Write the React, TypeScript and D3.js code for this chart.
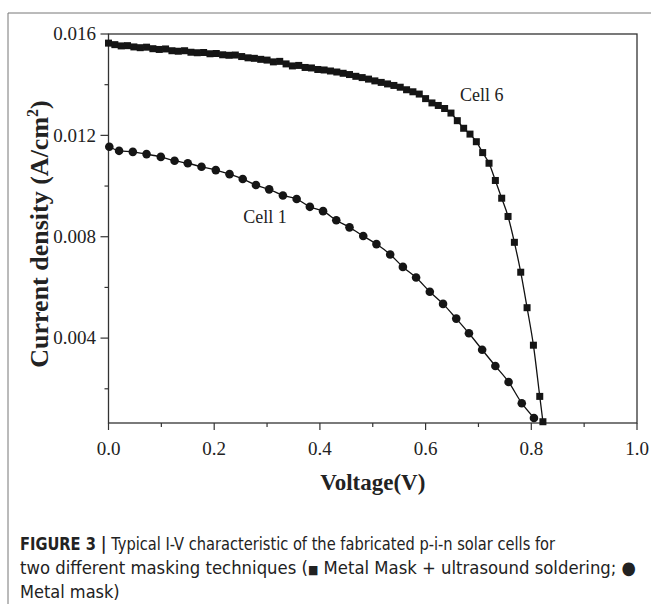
import React from "react";
import * as d3 from "d3";

// Cell 6: metal mask + ultrasound soldering (squares)
const cell6Voltage = [
  0, 0.012, 0.024, 0.036, 0.048, 0.06, 0.072, 0.084, 0.096, 0.108,
  0.12, 0.132, 0.144, 0.156, 0.168, 0.18, 0.192, 0.204, 0.216, 0.228,
  0.24, 0.252, 0.264, 0.276, 0.288, 0.3, 0.312, 0.324, 0.336, 0.348,
  0.36, 0.372, 0.384, 0.396, 0.408, 0.42, 0.432, 0.444, 0.456, 0.468,
  0.48, 0.492, 0.504, 0.516, 0.528, 0.54, 0.552, 0.564, 0.576, 0.588,
  0.6, 0.612, 0.624, 0.636, 0.648, 0.66, 0.672, 0.684, 0.696, 0.708,
  0.72, 0.732, 0.744, 0.756, 0.768, 0.78, 0.792, 0.804, 0.816, 0.822,
];
const cell6Current = [
  0.01564, 0.01558, 0.01553, 0.01554, 0.01549, 0.01546, 0.01548, 0.01542, 0.01539, 0.01541,
  0.01534, 0.01532, 0.01534, 0.01528, 0.01526, 0.01527, 0.01522, 0.01523, 0.01518, 0.01516,
  0.01517, 0.01511, 0.01506, 0.01504, 0.015, 0.01497, 0.0149, 0.01492, 0.01482, 0.01474,
  0.01476, 0.01468, 0.01466, 0.0146, 0.01458, 0.01454, 0.0145, 0.01445, 0.0144, 0.01433,
  0.01428, 0.01422, 0.01415, 0.01409, 0.01403, 0.01397, 0.0139, 0.0138, 0.01372, 0.01363,
  0.01345, 0.01328, 0.01318, 0.01306, 0.01288, 0.01258, 0.01228, 0.01205, 0.01175, 0.01132,
  0.0109, 0.01022, 0.00952, 0.0088, 0.00778, 0.0066, 0.0052, 0.00372, 0.0017, 0.0007,
];

// Cell 1: metal mask (circles)
const cell1Voltage = [
  0.0015, 0.02, 0.046, 0.072, 0.099, 0.125, 0.15, 0.176, 0.203, 0.229,
  0.254, 0.279, 0.304, 0.33, 0.356, 0.381, 0.406, 0.431, 0.456, 0.482,
  0.507, 0.533, 0.557, 0.582, 0.608, 0.633, 0.658, 0.682, 0.707, 0.732,
  0.757, 0.782, 0.805,
];
const cell1Current = [
  0.01155, 0.01139, 0.01135, 0.01126, 0.01115, 0.011, 0.0109, 0.01076, 0.01063, 0.01047,
  0.01028, 0.01004, 0.00987, 0.00963, 0.00949, 0.00918, 0.00901, 0.00865, 0.00837, 0.00803,
  0.00771, 0.0073, 0.00681, 0.00639, 0.00583, 0.00535, 0.00477, 0.00419, 0.00354, 0.0029,
  0.00227, 0.00143, 0.00085,
];

const xTicks = [0, 0.2, 0.4, 0.6, 0.8, 1.0];
const xMinorTicks = [0.1, 0.3, 0.5, 0.7, 0.9];
const yTicks = [0.004, 0.008, 0.012, 0.016];
const yMinorTicks = [0.002, 0.006, 0.01, 0.014];

const cellNames = ["Cell 6", "Cell 1"];
const cellLabelV = [0.665, 0.255];
const cellLabelJ = [0.01335, 0.00856];

const W = 651;
const H = 604;
const margin = { left: 108.5, right: 14, top: 34, bottom: 181 };
const serif = "'Liberation Serif', 'Times New Roman', serif";
const sans = "'Liberation Sans Narrow', 'DejaVu Sans Condensed', 'Liberation Sans', Arial, sans-serif";

export default function App() {
  const x = d3.scaleLinear().domain([0, 1]).range([margin.left, W - margin.right]);
  const y = d3.scaleLinear().domain([0.00065, 0.016]).range([H - margin.bottom, margin.top]);

  const pathFor = (vs: number[], js: number[]) =>
    d3
      .line<number>()
      .x((_, i) => x(vs[i]))
      .y((_, i) => y(js[i]))
      .curve(d3.curveMonotoneX)(vs);

  const [x0, x1] = x.range();
  const [y0, y1] = y.range();
  const sq = 7;

  return (
    <svg
      width={W}
      height={H}
      style={{ position: "absolute", left: 0, top: 0, background: "#fff" }}
    >
      {/* outer figure frame */}
      <line x1={8} y1={13} x2={W} y2={13} stroke="#777" strokeWidth={1} />
      <line x1={8} y1={13} x2={8} y2={H} stroke="#777" strokeWidth={1} />

      {/* plot box */}
      <rect x={x0} y={y1} width={x1 - x0} height={y0 - y1} fill="none" stroke="#333" strokeWidth={1.3} />

      {/* x ticks */}
      {xTicks.map((t) => (
        <g key={"xt" + t}>
          <line x1={x(t)} x2={x(t)} y1={y0} y2={y0 + 7} stroke="#333" strokeWidth={1.2} />
          <text x={x(t)} y={455} textAnchor="middle" fontFamily={serif} fontSize={19} fill="#222">
            {d3.format(".1f")(t)}
          </text>
        </g>
      ))}
      {xMinorTicks.map((t) => (
        <line key={"xm" + t} x1={x(t)} x2={x(t)} y1={y0} y2={y0 + 4} stroke="#333" strokeWidth={1.2} />
      ))}

      {/* y ticks */}
      {yTicks.map((t) => (
        <g key={"yt" + t}>
          <line x1={x0 - 8} x2={x0} y1={y(t)} y2={y(t)} stroke="#333" strokeWidth={1.2} />
          <text x={96} y={y(t)} dy="0.33em" textAnchor="end" fontFamily={serif} fontSize={19} fill="#222">
            {d3.format(".3f")(t)}
          </text>
        </g>
      ))}
      {yMinorTicks.map((t) => (
        <line key={"ym" + t} x1={x0 - 4} x2={x0} y1={y(t)} y2={y(t)} stroke="#333" strokeWidth={1.2} />
      ))}

      {/* series */}
      <path d={pathFor(cell6Voltage, cell6Current) || ""} fill="none" stroke="#111" strokeWidth={1.3} />
      <path d={pathFor(cell1Voltage, cell1Current) || ""} fill="none" stroke="#111" strokeWidth={1.3} />
      {cell6Voltage.map((v, i) => (
        <rect
          key={"s" + i}
          x={x(v) - sq / 2}
          y={y(cell6Current[i]) - sq / 2}
          width={sq}
          height={sq}
          fill="#151515"
        />
      ))}
      {cell1Voltage.map((v, i) => (
        <circle key={"c" + i} cx={x(v)} cy={y(cell1Current[i])} r={4.3} fill="#151515" />
      ))}

      {/* series labels */}
      {cellNames.map((n, i) => (
        <text key={n} x={x(cellLabelV[i])} y={y(cellLabelJ[i])} fontFamily={serif} fontSize={18} fill="#222">
          {n}
        </text>
      ))}

      {/* axis titles */}
      <text
        x={(x0 + x1) / 2}
        y={490}
        textAnchor="middle"
        fontFamily={serif}
        fontWeight="bold"
        fontSize={23}
        fill="#222"
      >
        Voltage(V)
      </text>
      <text
        transform={`translate(48, 234) rotate(-90)`}
        textAnchor="middle"
        fontFamily={serif}
        fontWeight="bold"
        fontSize={26}
        fill="#222"
      >
        Current density (A/cm<tspan dy={-10} fontSize={16}>2</tspan>
        <tspan dy={10}>)</tspan>
      </text>

      {/* caption */}
      <text x={20} y={550} fontFamily={sans} fontSize={18} fill="#222" textLength={535} lengthAdjust="spacingAndGlyphs">
        <tspan fontWeight="bold">FIGURE 3 | </tspan>
        Typical I-V characteristic of the fabricated p-i-n solar cells for
      </text>
      <text x={20} y={574} fontFamily={sans} fontSize={18} fill="#222" textLength={616} lengthAdjust="spacingAndGlyphs">
        two different masking techniques (<tspan fontSize={12}>■</tspan> Metal Mask + ultrasound soldering; ●
      </text>
      <text x={20} y={598} fontFamily={sans} fontSize={18} fill="#222">
        Metal mask)
      </text>
    </svg>
  );
}
